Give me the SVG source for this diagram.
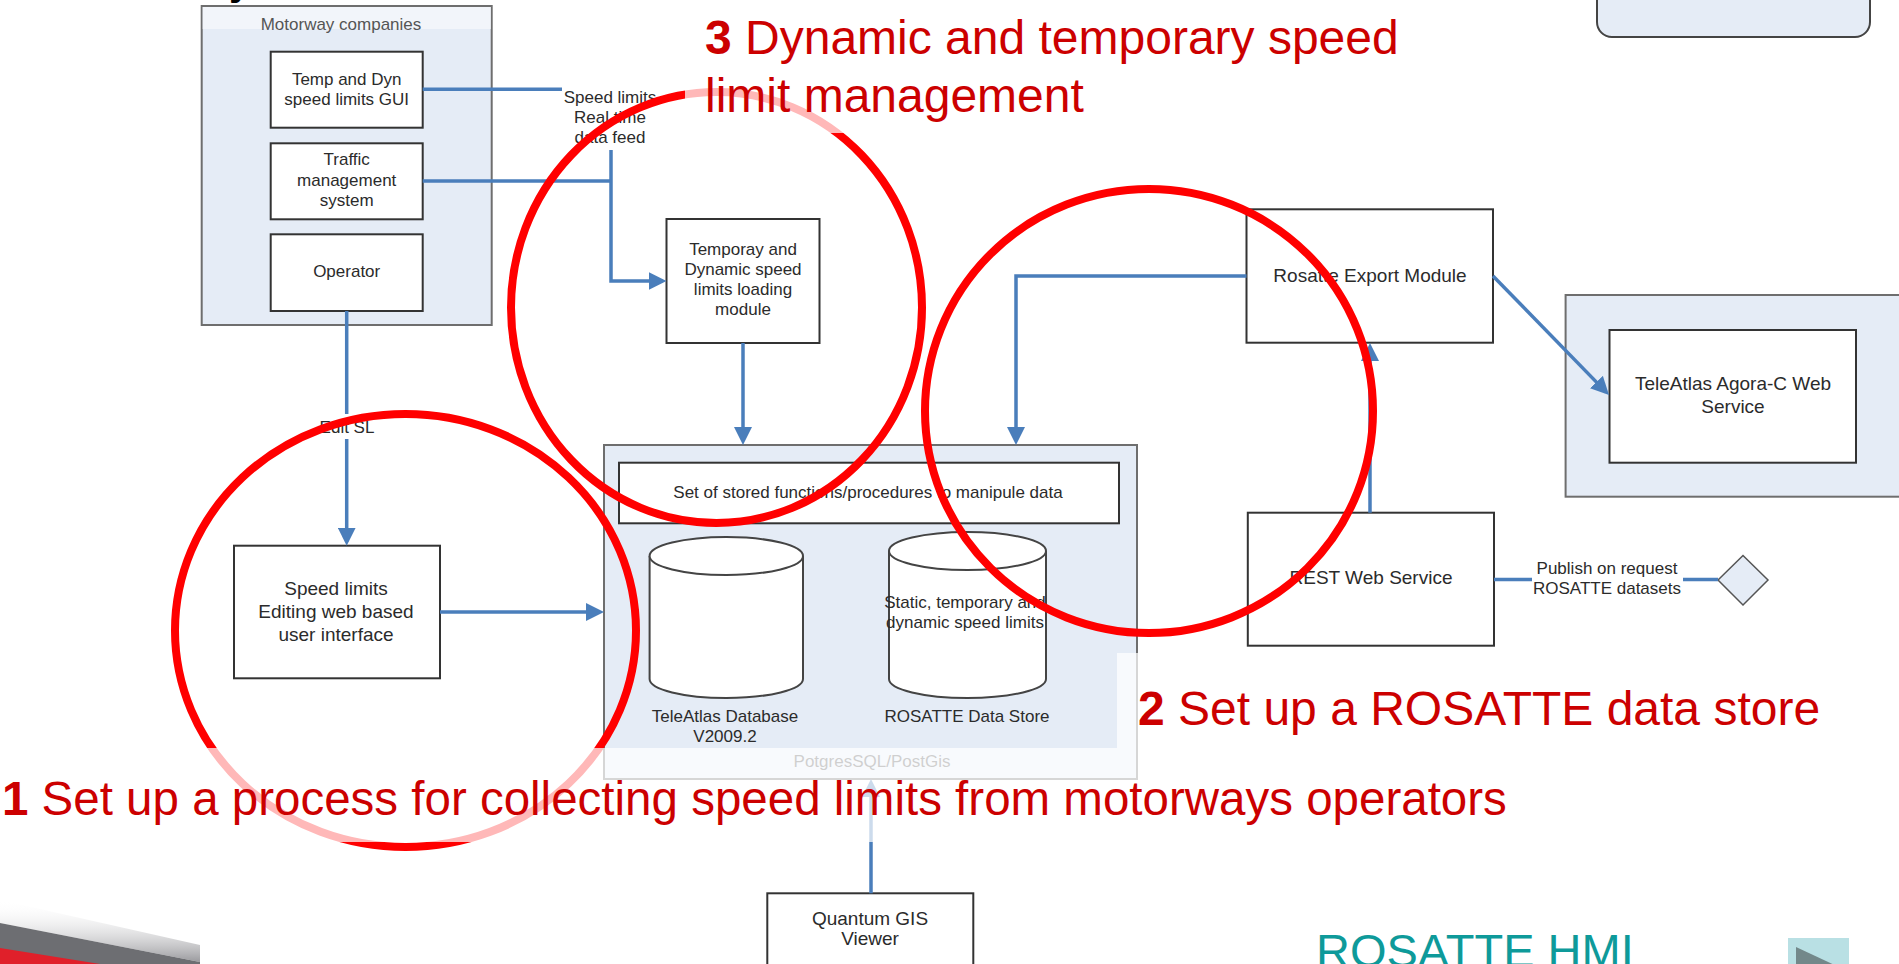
<svg xmlns="http://www.w3.org/2000/svg" width="1899" height="964" viewBox="0 0 1899 964">
<defs>
<style>
.group{fill:#e5ecf6;stroke:#6e6e6e;stroke-width:2}
.node{fill:#fff;stroke:#333;stroke-width:2}
.t{font-family:"Liberation Sans",Arial,sans-serif;font-size:17px;fill:#2b2b2b;text-anchor:middle}
.t19{font-size:19px}
.conn{fill:none;stroke:#4a7ebb;stroke-width:3.5}
.arr{marker-end:url(#ah)}
.ring{fill:none;stroke:#ff0000;stroke-width:8}
.band{fill:#fff;fill-opacity:0.72}
.red{font-family:"Liberation Sans",Arial,sans-serif;font-size:48px;fill:#cc0000}
</style>
<marker id="ah" markerUnits="userSpaceOnUse" markerWidth="18" markerHeight="18" refX="14" refY="9" orient="auto">
<path d="M0,0 L18,9 L0,18 Z" fill="#4a7ebb"/>
</marker>
<linearGradient id="shade" x1="0" y1="0" x2="0" y2="1">
<stop offset="0" stop-color="#ffffff" stop-opacity="0"/>
<stop offset="1" stop-color="#9a9a9e"/>
</linearGradient>
</defs>
<rect width="1899" height="964" fill="#fff"/>

<text x="229" y="-5" font-family="Liberation Sans,Arial,sans-serif" font-size="40" font-weight="bold" fill="#000">y</text>

<g id="motorway-companies">
<rect class="group" x="201.7" y="6" width="290" height="319"/>
<rect x="202.7" y="7" width="288" height="22" fill="#f2f5fa"/>
<text class="t" x="341" y="30" style="fill:#555">Motorway companies</text>
</g>
<g id="temp-dyn-gui">
<rect class="node" x="270.7" y="51.7" width="152" height="76"/>
<text class="t" x="346.7" y="85">Temp and Dyn</text>
<text class="t" x="346.7" y="105">speed limits GUI</text>
</g>
<g id="traffic-management">
<rect class="node" x="270.7" y="143.3" width="152" height="76"/>
<text class="t" x="346.7" y="165">Traffic</text>
<text class="t" x="346.7" y="186">management</text>
<text class="t" x="346.7" y="206">system</text>
</g>
<g id="operator">
<rect class="node" x="270.7" y="234.3" width="152" height="76.7"/>
<text class="t" x="346.7" y="277">Operator</text>
</g>

<g id="top-right-box">
<rect x="1597" y="-20" width="273" height="57" rx="15" fill="#e5ecf6" stroke="#444" stroke-width="2"/>
</g>

<g id="temp-dyn-loading">
<rect class="node" x="666.5" y="219" width="153" height="124"/>
<text class="t" x="743" y="255">Temporay and</text>
<text class="t" x="743" y="275">Dynamic speed</text>
<text class="t" x="743" y="295">limits loading</text>
<text class="t" x="743" y="315">module</text>
</g>

<g id="speed-limits-editing">
<rect class="node" x="234" y="545.7" width="206" height="132.6"/>
<text class="t t19" x="336" y="595">Speed limits</text>
<text class="t t19" x="336" y="618">Editing web based</text>
<text class="t t19" x="336" y="641">user interface</text>
</g>

<g id="postgres">
<rect class="group" x="604" y="445" width="533" height="334"/>
<text class="t" x="872" y="767" style="fill:#555">PotgresSQL/PostGis</text>
</g>
<g id="stored-functions">
<rect class="node" x="619" y="462.7" width="500" height="60.6"/>
<text class="t" x="868" y="498">Set of stored functions/procedures to manipule data</text>
</g>
<g id="teleatlas-db">
<path d="M649.6,556 V679 A76.7,19 0 0 0 803,679 V556" fill="#fff" stroke="#444" stroke-width="2"/>
<ellipse cx="726.3" cy="556" rx="76.7" ry="19" fill="#fff" stroke="#444" stroke-width="2"/>
<text class="t" x="725" y="722">TeleAtlas Database</text>
<text class="t" x="725" y="742">V2009.2</text>
</g>
<g id="rosatte-store">
<path d="M889,551 V679 A78.5,19 0 0 0 1046,679 V551" fill="#fff" stroke="#444" stroke-width="2"/>
<ellipse cx="967.5" cy="551" rx="78.5" ry="19" fill="#fff" stroke="#444" stroke-width="2"/>
<text class="t" x="965" y="608">Static, temporary and</text>
<text class="t" x="965" y="628">dynamic speed limits</text>
<text class="t" x="967" y="722">ROSATTE Data Store</text>
</g>

<g id="rosatte-export">
<rect class="node" x="1246.5" y="209.3" width="246.5" height="133.4"/>
<text class="t t19" x="1370" y="282">Rosatte Export Module</text>
</g>
<g id="rest-ws">
<rect class="node" x="1247.8" y="512.7" width="246.2" height="133"/>
<text class="t t19" x="1371" y="584">REST Web Service</text>
</g>
<g id="teleatlas-agora">
<rect class="group" x="1565.6" y="295" width="340" height="201.7"/>
<rect class="node" x="1609.5" y="330" width="246.5" height="132.7"/>
<text class="t t19" x="1733" y="390">TeleAtlas Agora-C Web</text>
<text class="t t19" x="1733" y="413">Service</text>
</g>
<g id="publish-endpoint">
<polygon points="1718,580 1743,555.5 1768,580 1743,605" fill="#e5ecf6" stroke="#555" stroke-width="1.5"/>
</g>
<g id="quantum-gis">
<rect class="node" x="767.3" y="893.3" width="206" height="90"/>
<text class="t t19" x="870" y="925">Quantum GIS</text>
<text class="t t19" x="870" y="945">Viewer</text>
</g>

<g id="connectors">
<path class="conn" d="M422.7,89.3 H562"/>
<path class="conn" d="M422.7,181 H611"/>
<path class="conn arr" d="M611,150 V281 H662.5"/>
<path class="conn arr" d="M346.7,311 V541.7"/>
<rect x="320" y="414" width="54" height="25" fill="#fff"/>
<text class="t" x="347" y="433">Edit SL</text>
<path class="conn arr" d="M440,612 H600"/>
<path class="conn arr" d="M743,343 V441"/>
<path class="conn arr" d="M1246.5,276 H1016 V441"/>
<path class="conn arr" d="M1370,512.7 V347"/>
<path class="conn arr" d="M1493,276 L1606.2,392.1"/>
<path class="conn arr" d="M871,893.3 V783"/>
<path class="conn" d="M1494,579.5 H1532"/>
<path class="conn" d="M1683,579.5 H1718"/>
<text class="t" x="610" y="103">Speed limits</text>
<text class="t" x="610" y="123">Real time</text>
<text class="t" x="610" y="143">data feed</text>
<text class="t" x="1607" y="574">Publish on request</text>
<text class="t" x="1607" y="594">ROSATTE datasets</text>
</g>

<g id="highlights">
<ellipse class="ring" cx="716.5" cy="307.5" rx="205.5" ry="215.5"/>
<ellipse class="ring" cx="1149" cy="411" rx="224" ry="222"/>
<ellipse class="ring" cx="405.5" cy="630.5" rx="230.5" ry="216.5"/>
</g>

<rect class="band" x="685" y="0" width="740" height="133"/>
<rect class="band" x="1117" y="653" width="730" height="95"/>
<rect class="band" x="0" y="748" width="1520" height="94"/>

<text class="red" x="705" y="54"><tspan font-weight="bold">3</tspan> Dynamic and temporary speed</text>
<text class="red" x="705" y="112">limit management</text>
<text class="red" x="1138" y="725"><tspan font-weight="bold">2</tspan> Set up a ROSATTE data store</text>
<text class="red" x="2" y="815" style="font-size:47.5px"><tspan font-weight="bold">1</tspan> Set up a process for collecting speed limits from motorways operators</text>

<polygon points="0,900 200,945 200,962 0,923" fill="url(#shade)"/>
<polygon points="0,923 200,962 200,964 0,964" fill="#6d6e72"/>
<polygon points="0,948 100,964 0,964" fill="#e0202a"/>

<text x="1316" y="967" font-family="Liberation Sans,Arial,sans-serif" font-size="47" fill="#0e9a9a">ROSATTE HMI</text>
<rect x="1788" y="938" width="61" height="30" fill="#b9e0e4"/>
<polygon points="1796,947 1796,989 1841,968" fill="#73888a"/>
</svg>
